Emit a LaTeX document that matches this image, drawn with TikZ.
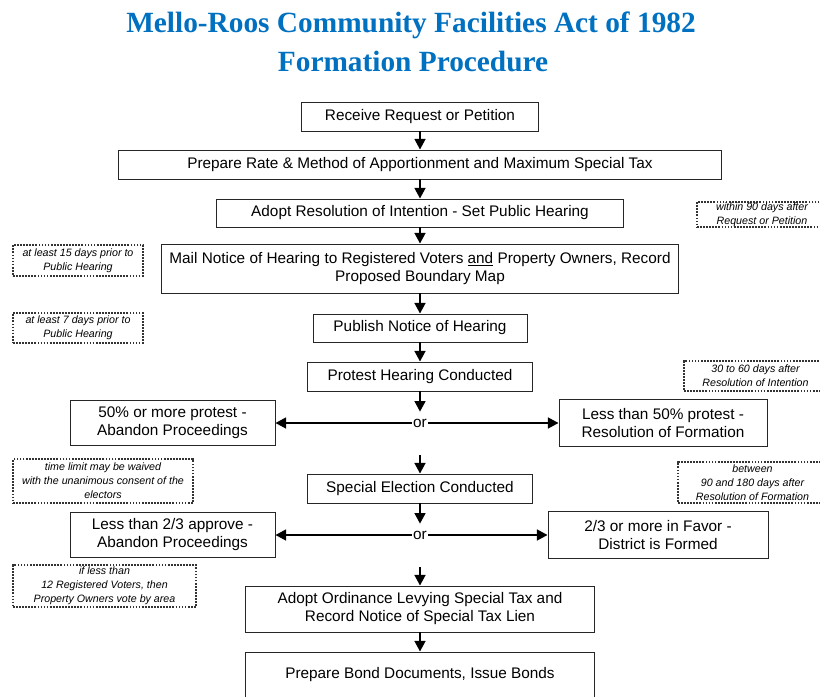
\documentclass[tikz,border=0pt]{standalone}
\usepackage{fontspec}
\setmainfont{Liberation Sans}
\newfontfamily\titlefont{Liberation Serif}
\usepackage{xcolor}
\usetikzlibrary{arrows.meta}
\definecolor{titleblue}{RGB}{0,112,192}
\tikzset{
box/.style={draw=black!85,line width=0.6pt,align=center,inner sep=0pt,font=\fontsize{11.5}{13.5}\selectfont},
note/.style={draw=black!80,densely dotted,line width=1.3pt,align=center,inner sep=0pt,font=\fontsize{8}{10.5}\selectfont\itshape},
ornode/.style={inner sep=1pt,minimum height=16.5pt,font=\fontsize{11.5}{13.5}\selectfont},
titletext/.style={anchor=base,text=titleblue,font=\titlefont\bfseries\fontsize{22}{29}\selectfont}
}
\begin{document}
\begin{tikzpicture}[x=0.75pt,y=-0.75pt]
\useasboundingbox (0,0) rectangle (820,696);
\clip (0,0) rectangle (820,696);
\node[titletext] (T1) at (411,32) {Mello-Roos Community Facilities Act of 1982};
\node[titletext] (T2) at (413,71) {Formation Procedure};
\node[box,minimum width=177.75pt,minimum height=21.75pt] (A) at (420,116.5) {Receive Request or Petition};
\node[box,minimum width=452.25pt,minimum height=21.75pt] (B) at (420,164.5) {Prepare Rate \& Method of Apportionment and Maximum Special Tax};
\node[box,minimum width=305.25pt,minimum height=21pt] (C) at (420,213) {Adopt Resolution of Intention - Set Public Hearing};
\node[box,minimum width=387.75pt,minimum height=36.75pt] (D) at (420,268.5) {Mail Notice of Hearing to Registered Voters \underline{and} Property Owners, Record\\Proposed Boundary Map};
\node[box,minimum width=160.5pt,minimum height=21pt] (E) at (420,328) {Publish Notice of Hearing};
\node[box,minimum width=168.75pt,minimum height=21.75pt] (F) at (420,376.5) {Protest Hearing Conducted};
\node[ornode] (O1) at (420,423) {or};
\node[box,minimum width=153.75pt,minimum height=33.75pt] (G) at (172.5,423) {50\% or more protest -\\Abandon Proceedings};
\node[box,minimum width=156pt,minimum height=35.25pt] (H) at (663,423) {Less than 50\% protest -\\Resolution of Formation};
\coordinate (P1) at (420,455);
\node[box,minimum width=168.75pt,minimum height=21.75pt] (I) at (420,488.5) {Special Election Conducted};
\node[ornode] (O2) at (420,535) {or};
\node[box,minimum width=153.75pt,minimum height=33.75pt] (J) at (172.5,535) {Less than 2/3 approve -\\Abandon Proceedings};
\node[box,minimum width=165pt,minimum height=35.25pt] (K) at (658,535) {2/3 or more in Favor -\\District is Formed};
\coordinate (P2) at (420,567);
\node[box,minimum width=261.75pt,minimum height=34.5pt] (L) at (420,609) {Adopt Ordinance Levying Special Tax and\\Record Notice of Special Tax Lien};
\node[box,minimum width=261.75pt,minimum height=34.5pt] (M) at (420,675) {Prepare Bond Documents, Issue Bonds};
\node[note,minimum width=97.5pt,minimum height=23.25pt] (N1) at (78,260.5) {at least 15 days prior to\\Public Hearing};
\node[note,minimum width=97.5pt,minimum height=22.5pt] (N2) at (78,328) {at least 7 days prior to\\Public Hearing};
\node[note,minimum width=97.5pt,minimum height=18.75pt] (N3) at (762,214.5) {within 90 days after\\Request or Petition};
\node[note,minimum width=107.25pt,minimum height=22.5pt] (N4) at (755.5,376) {30 to 60 days after\\Resolution of Intention};
\node[note,minimum width=135pt,minimum height=33pt] (N5) at (103,481) {time limit may be waived\\with the unanimous consent of the\\electors};
\node[note,minimum width=111.75pt,minimum height=30.75pt] (N6) at (752.5,482.5) {between\\90 and 180 days after\\Resolution of Formation};
\node[note,minimum width=137.25pt,minimum height=31.5pt] (N7) at (104.5,586) {if less than\\12 Registered Voters, then\\Property Owners vote by area};
\path[->,>={Triangle[length=8pt,width=8pt]},line width=1.8pt]
(A) edge (B)
(B) edge (C)
(C) edge (D)
(D) edge (E)
(E) edge (F)
(F) edge (O1)
(O1) edge (G)
(O1) edge (H)
(P1) edge (I)
(I) edge (O2)
(O2) edge (J)
(O2) edge (K)
(P2) edge (L)
(L) edge (M);
\end{tikzpicture}
\end{document}
